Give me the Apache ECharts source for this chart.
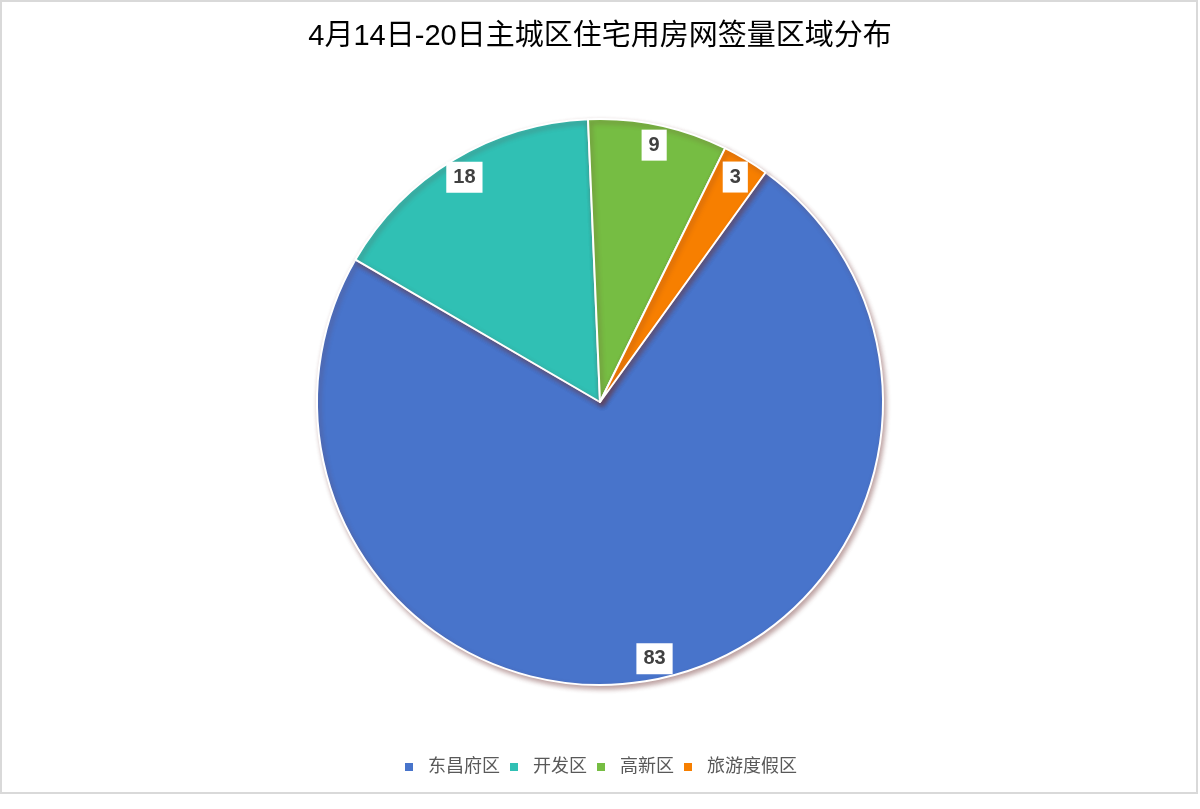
<!DOCTYPE html>
<html>
<head>
<meta charset="utf-8">
<script src="https://cdn.jsdelivr.net/npm/echarts@6/dist/echarts.min.js"></script>
<style>
  html, body { margin: 0; padding: 0; background: #fff; }
  #chart { width: 1200px; height: 809px; }
</style>
</head>
<body>
<div id="chart"></div>
<script>
// data
const titleText = '4月14日-20日主城区住宅用房网签量区域分布'
const districts = ['东昌府区', '开发区', '高新区', '旅游度假区']
const signed = [83, 18, 9, 3]
const colors = ['#4874CB', '#30C0B4', '#76BD43', '#F77F00']

const fontCJK = '"Liberation Sans", "Noto Sans CJK SC", sans-serif'

const pieData = districts.map((name, i) => ({ name, value: signed[i] }))

const chart = echarts.init(document.getElementById('chart'))

chart.setOption({
  backgroundColor: '#fff',
  animation: false,
  color: colors,
  title: {
    text: titleText,
    left: 'center',
    top: 17,
    textStyle: {
      fontSize: 29,
      fontWeight: 'normal',
      color: '#000',
      fontFamily: fontCJK
    }
  },
  legend: {
    data: districts,
    left: 'center',
    top: 753,
    icon: 'rect',
    itemWidth: 10,
    itemHeight: 10,
    itemGap: 8,
    textStyle: {
      fontSize: 18,
      color: '#595959',
      fontFamily: fontCJK,
      padding: [0, 0, 0, 9]
    }
  },
  graphic: [{
    type: 'rect',
    shape: { x: 1, y: 1, width: 1196, height: 792 },
    style: { fill: 'none', stroke: '#d9d9d9', lineWidth: 2 },
    silent: true,
    z: 100
  }],
  series: [
    {
      // the pie itself
      type: 'pie',
      center: [600, 402],
      radius: [0, 283],
      startAngle: 54.2,
      clockwise: true,
      data: pieData,
      label: { show: false },
      labelLine: { show: false },
      itemStyle: {
        borderColor: '#fff',
        borderWidth: 2,
        shadowColor: 'rgba(110, 50, 50, 0.45)',
        shadowBlur: 5,
        shadowOffsetX: 2,
        shadowOffsetY: 3
      }
    },
    {
      // invisible ring that carries the value labels near the rim
      type: 'pie',
      center: [600, 402],
      radius: [236, 283],
      startAngle: 54.2,
      clockwise: true,
      silent: true,
      data: pieData,
      itemStyle: { color: 'rgba(0,0,0,0)' },
      labelLine: { show: false },
      label: {
        show: true,
        position: 'inside',
        formatter: '{c}',
        backgroundColor: '#fff',
        padding: [6, 7, 5, 7],
        lineHeight: 20,
        fontSize: 20,
        fontWeight: 'bold',
        color: '#404040',
        fontFamily: '"Liberation Sans", Arial, sans-serif'
      }
    }
  ]
})
</script>
</body>
</html>
